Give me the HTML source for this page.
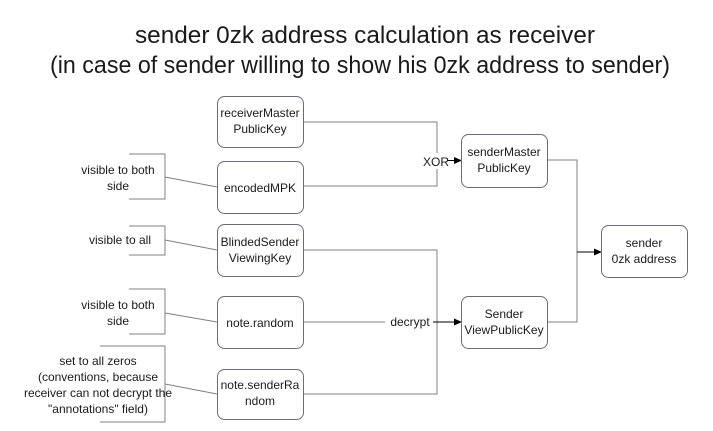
<!DOCTYPE html>
<html><head><meta charset="utf-8"><style>
html,body{margin:0;padding:0;background:#fff;}
svg{display:block;font-family:"Liberation Sans",sans-serif;}
</style></head><body>
<svg width="713" height="431" viewBox="0 0 713 431" xmlns="http://www.w3.org/2000/svg">
<defs><marker id="a" markerWidth="8" markerHeight="8" refX="7" refY="4" orient="auto" markerUnits="userSpaceOnUse"><path d="M0,0.5 L8,4 L0,7.5 z" fill="#000"/></marker></defs>
<g font-size="24" fill="#1a1a1a" text-anchor="middle">
<text x="365" y="43" textLength="460" lengthAdjust="spacingAndGlyphs">sender 0zk address calculation as receiver</text>
<text x="360" y="73" textLength="620" lengthAdjust="spacingAndGlyphs">(in case of sender willing to show his 0zk address to sender)</text>
</g>
<g fill="none" stroke="#808080" stroke-width="1">
<path d="M303,122 H437 V186 H303"/>
<path d="M303,250 H437 V394 H303"/>
<path d="M303,322 H385"/>
<path d="M547,160 H577 V322 H547"/>
<path d="M129,154 H165 V199 H129"/>
<path d="M129,226 H165 V255 H129"/>
<path d="M129,289 H165 V334 H129"/>
<path d="M100,346 H165 V422 H100"/>
<path d="M165,177 L217,187"/>
<path d="M165,240 L217,250"/>
<path d="M165,313 L217,322"/>
<path d="M165,384 L217,394"/>
</g>
<g stroke="#000" stroke-width="1" fill="none">
<path d="M448,160.5 H461" marker-end="url(#a)"/>
<path d="M433,322 H461" marker-end="url(#a)"/>
<path d="M577,252 H601" marker-end="url(#a)"/>
</g>
<g fill="#fff" stroke="#6a6a80" stroke-width="1">
<rect x="217.5" y="96.5" width="86" height="51" rx="7"/>
<rect x="217.5" y="161.5" width="86" height="52" rx="7"/>
<rect x="217.5" y="224.5" width="86" height="52" rx="7"/>
<rect x="217.5" y="296.5" width="86" height="52" rx="7"/>
<rect x="217.5" y="369.5" width="86" height="50" rx="7"/>
<rect x="461.5" y="134.5" width="86" height="53" rx="7"/>
<rect x="461.5" y="296.5" width="86" height="52" rx="7"/>
<rect x="601.5" y="225.5" width="86" height="52" rx="7"/>
</g>
<g font-size="12" fill="#1a1a1a" text-anchor="middle">
<text x="260" y="117">receiverMaster</text><text x="260" y="133">PublicKey</text>
<text x="260" y="192">encodedMPK</text>
<text x="260" y="246">BlindedSender</text><text x="260" y="262">ViewingKey</text>
<text x="260" y="327">note.random</text>
<text x="260" y="389">note.senderRa</text><text x="260" y="405">ndom</text>
<text x="504" y="156">senderMaster</text><text x="504" y="172">PublicKey</text>
<text x="504" y="318">Sender</text><text x="504" y="334">ViewPublicKey</text>
<text x="644" y="247">sender</text><text x="644" y="263">0zk address</text>
<text x="118" y="174">visible to both</text><text x="118" y="190">side</text>
<text x="120" y="244">visible to all</text>
<text x="118" y="309">visible to both</text><text x="118" y="325">side</text>
<text x="98" y="365">set to all zeros</text>
<text x="98" y="381">(conventions, because</text>
<text x="98" y="397">receiver can not decrypt the</text>
<text x="98" y="413">"annotations" field)</text>
<rect x="423" y="153" width="25" height="16" fill="#fff"/>
<text x="436" y="166">XOR</text>
<rect x="387" y="314" width="46" height="16" fill="#fff"/>
<text x="410" y="326">decrypt</text>
</g>
</svg>
</body></html>
